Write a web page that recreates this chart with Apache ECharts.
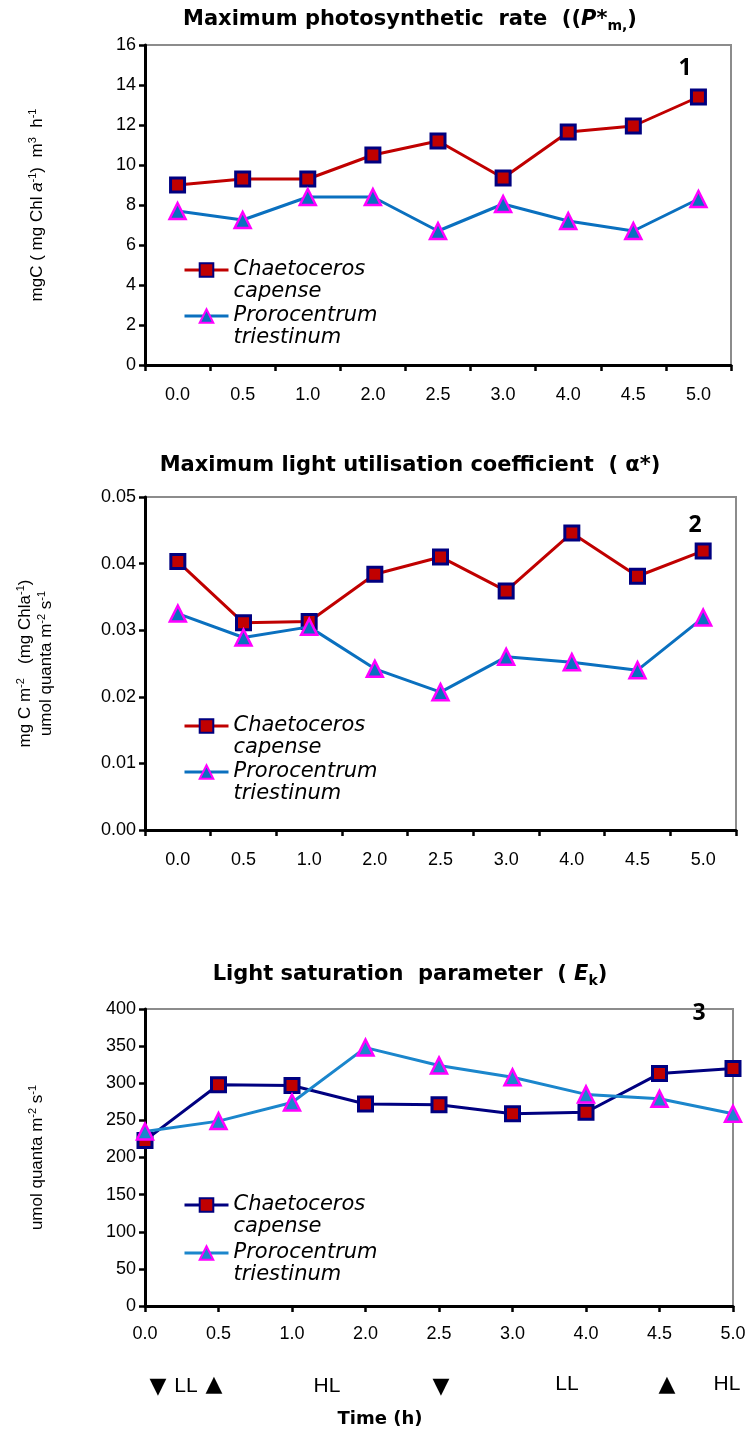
<!DOCTYPE html>
<html>
<head>
<meta charset="utf-8">
<script src="https://cdn.jsdelivr.net/npm/echarts@6/dist/echarts.min.js"></script>
<style>
  html, body { margin: 0; padding: 0; background: #fff; }
  #chart { width: 752px; height: 1434px; }
</style>
</head>
<body>
<div id="chart"></div>
<script>
// Sampling times (h) shared by all three panels
const timeLabels = ['0.0', '0.5', '1.0', '2.0', '2.5', '3.0', '4.0', '4.5', '5.0'];

// Panel 1: maximum photosynthetic rate P*m
const pmChaetoceros  = [9.0, 9.3, 9.3, 10.5, 11.2, 9.35, 11.65, 11.95, 13.4];
const pmProrocentrum = [7.7, 7.25, 8.4, 8.4, 6.7, 8.05, 7.2, 6.7, 8.3];

// Panel 2: maximum light utilisation coefficient alpha*
const alphaChaetoceros  = [0.0403, 0.0311, 0.0313, 0.0384, 0.0410, 0.0359, 0.0446, 0.0381, 0.0419];
const alphaProrocentrum = [0.0325, 0.0289, 0.0305, 0.0242, 0.0207, 0.0260, 0.0252, 0.0240, 0.0319];

// Panel 3: light saturation parameter Ek
const ekChaetoceros  = [223, 298, 297, 272, 271, 259, 261, 313, 320];
const ekProrocentrum = [235, 249, 274, 348, 324, 308, 285, 279, 259];

// Value-axis ranges
const pmAxis    = { min: 0, max: 16,   interval: 2 };
const alphaAxis = { min: 0, max: 0.05, interval: 0.01 };
const ekAxis    = { min: 0, max: 400,  interval: 50 };

const FONT = "'Liberation Sans', Arial, sans-serif";
const WIDE = "'DejaVu Sans', sans-serif";
const RED = '#c00000', NAVY = '#000080', BLUE = '#0a70bf', LIGHTBLUE = '#1b86cc', MAGENTA = '#ff00ff';

// Legend labels (leading blank line keeps the first text line level with the icon)
const legendText = {
  'Chaetoceros capense (Pm)': '\nChaetoceros\ncapense',
  'Prorocentrum triestinum (Pm)': '\nProrocentrum\ntriestinum',
  'Chaetoceros capense (alpha)': '\nChaetoceros\ncapense',
  'Prorocentrum triestinum (alpha)': '\nProrocentrum\ntriestinum',
  'Chaetoceros capense (Ek)': '\nChaetoceros\ncapense',
  'Prorocentrum triestinum (Ek)': '\nProrocentrum\ntriestinum'
};

const grids = [
  { left: 145, top: 45,   width: 586, height: 320 },
  { left: 145, top: 497,  width: 591, height: 333 },
  { left: 145, top: 1009, width: 588, height: 297 }
].map(g => Object.assign(g, { show: true, borderColor: '#8c8c8c', borderWidth: 2, backgroundColor: 'transparent' }));

const axisLine = { show: true, lineStyle: { color: '#000', width: 3 } };
const axisTick = { show: true, length: 6, lineStyle: { color: '#000', width: 2.5 } };
const labelStyle = { color: '#000', fontSize: 18, fontFamily: FONT };

const supRich = {
  sup: { fontSize: 11, fontFamily: FONT, color: '#000', verticalAlign: 'top', lineHeight: 11 },
  it:  { fontSize: 17, fontFamily: FONT, color: '#000', fontStyle: 'italic' },
  n:   { fontSize: 17, fontFamily: FONT, color: '#000' }
};

function xAxis(idx) {
  return {
    type: 'category', gridIndex: idx, data: timeLabels, boundaryGap: idx < 2,
    axisLine, axisTick,
    axisLabel: Object.assign({ margin: idx < 2 ? 21 : 19 }, labelStyle),
    splitLine: { show: false }
  };
}

function yAxis(idx, range, name, nameGap, formatter) {
  return Object.assign({
    type: 'value', gridIndex: idx,
    axisLine, axisTick,
    axisLabel: Object.assign({ margin: 9, formatter }, labelStyle),
    splitLine: { show: false },
    name, nameLocation: 'middle', nameRotate: 90, nameGap,
    nameTextStyle: { fontSize: 17, fontFamily: FONT, color: '#000', lineHeight: 21, rich: supRich }
  }, range);
}

function squareSeries(name, data, idx, lineColor) {
  return {
    name, type: 'line', xAxisIndex: idx, yAxisIndex: idx, data,
    symbol: 'rect', symbolSize: 14,
    lineStyle: { color: lineColor, width: 3 },
    itemStyle: { color: RED, borderColor: NAVY, borderWidth: 3 },
    z: 3
  };
}

function triangleSeries(name, data, idx, lineColor) {
  return {
    name, type: 'line', xAxisIndex: idx, yAxisIndex: idx, data,
    symbol: 'triangle', symbolSize: 16,
    lineStyle: { color: lineColor, width: 3 },
    itemStyle: { color: lineColor, borderColor: MAGENTA, borderWidth: 2.5 },
    z: 4
  };
}

function legendFor(name, top) {
  return {
    data: [name], left: 183, top, orient: 'vertical', padding: 0,
    itemWidth: 44, itemHeight: 17, selectedMode: false,
    lineStyle: { width: 3 },
    formatter: n => legendText[n],
    textStyle: { fontSize: 21, fontStyle: 'italic', fontFamily: WIDE, color: '#000', lineHeight: 22 }
  };
}

const titleRich = {
  b:   { fontSize: 21, fontWeight: 'bold', fontFamily: WIDE, color: '#000' },
  bi:  { fontSize: 21, fontWeight: 'bold', fontStyle: 'italic', fontFamily: WIDE, color: '#000' },
  sub: { fontSize: 14, fontWeight: 'bold', fontFamily: WIDE, color: '#000', verticalAlign: 'bottom', lineHeight: 14 }
};
function title(text, top) {
  return {
    text, left: 410, top, textAlign: 'center', padding: 0,
    textStyle: { fontSize: 21, fontWeight: 'bold', fontFamily: WIDE, color: '#000', lineHeight: 26, rich: titleRich }
  };
}

function textMark(text, x, y, size, weight, family) {
  return {
    type: 'text', x, y,
    style: { text, fill: '#000', font: `${weight} ${size}px ${family || FONT}`, textAlign: 'center', textVerticalAlign: 'middle' }
  };
}

const option = {
  animation: false,
  backgroundColor: '#fff',
  title: [
    title('{b|Maximum photosynthetic  rate  ((}{bi|P*}{sub|m,}{b|)}', 7),
    title('Maximum light utilisation coefficient  ( α*)', 453),
    title('{b|Light saturation  parameter  ( }{bi|E}{sub|k}{b|)}', 962)
  ],
  grid: grids,
  xAxis: [xAxis(0), xAxis(1), xAxis(2)],
  yAxis: [
    yAxis(0, pmAxis, '{n|mgC ( mg Chl }{it|a}{sup|-1}{n|)  m}{sup|3}{n|  h}{sup|-1}', 97, v => String(v)),
    yAxis(1, alphaAxis, '{n|mg C m}{sup|-2}{n|   (mg Chla}{sup|-1}{n|)}\n{n|umol quanta m}{sup|-2}{n| s}{sup|-1}', 88, v => v.toFixed(2)),
    yAxis(2, ekAxis, '{n|umol quanta m}{sup|-2}{n| s}{sup|-1}', 97, v => String(v))
  ],
  legend: [
    legendFor('Chaetoceros capense (Pm)', 237),
    legendFor('Prorocentrum triestinum (Pm)', 283),
    legendFor('Chaetoceros capense (alpha)', 693),
    legendFor('Prorocentrum triestinum (alpha)', 739),
    legendFor('Chaetoceros capense (Ek)', 1172),
    legendFor('Prorocentrum triestinum (Ek)', 1220)
  ],
  series: [
    squareSeries('Chaetoceros capense (Pm)', pmChaetoceros, 0, RED),
    triangleSeries('Prorocentrum triestinum (Pm)', pmProrocentrum, 0, BLUE),
    squareSeries('Chaetoceros capense (alpha)', alphaChaetoceros, 1, RED),
    triangleSeries('Prorocentrum triestinum (alpha)', alphaProrocentrum, 1, BLUE),
    squareSeries('Chaetoceros capense (Ek)', ekChaetoceros, 2, NAVY),
    triangleSeries('Prorocentrum triestinum (Ek)', ekProrocentrum, 2, LIGHTBLUE)
  ],
  graphic: [
    textMark('1', 685, 68, 23, 'bold', "'Open Sans', sans-serif"),
    textMark('2', 695, 525, 23, 'bold', "'Open Sans', sans-serif"),
    textMark('3', 699, 1013, 23, 'bold', "'Open Sans', sans-serif"),
    textMark('▼', 158, 1387, 22, 'normal', WIDE),
    textMark('LL', 186, 1386, 21, 'normal'),
    textMark('▲', 214, 1385, 22, 'normal', WIDE),
    textMark('HL', 327, 1386, 21, 'normal'),
    textMark('▼', 441, 1387, 22, 'normal', WIDE),
    textMark('LL', 567, 1384, 21, 'normal'),
    textMark('▲', 667, 1385, 22, 'normal', WIDE),
    textMark('HL', 727, 1384, 21, 'normal'),
    textMark('Time (h)', 380, 1419, 18, 'bold', WIDE)
  ]
};

const chart = echarts.init(document.getElementById('chart'), null, { renderer: 'canvas' });
chart.setOption(option);
</script>
</body>
</html>
